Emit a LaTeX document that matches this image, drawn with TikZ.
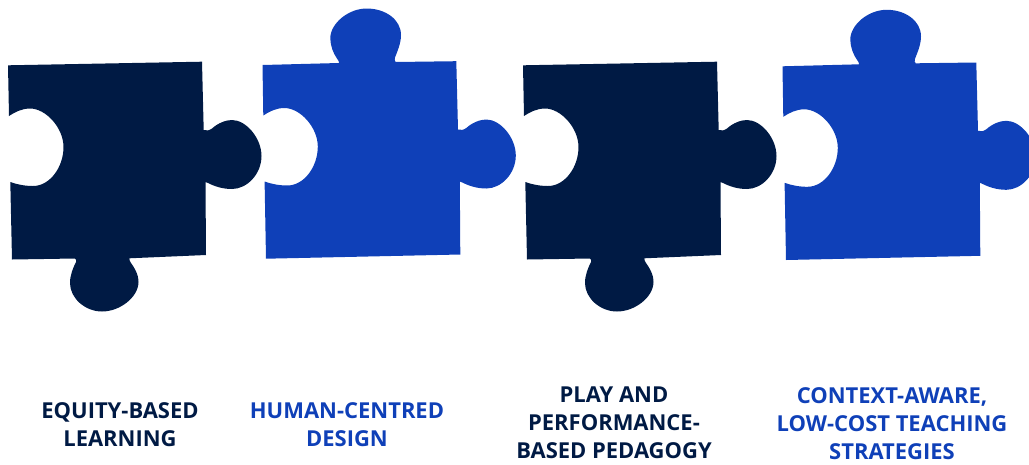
\documentclass[tikz,border=0pt]{standalone}
\usepackage{fontspec}
\setmainfont{Open Sans}
\definecolor{darknavy}{RGB}{0, 26, 68}
\definecolor{royalblue}{RGB}{15, 64, 184}
\usetikzlibrary{positioning}
% outline parts of a piece, clockwise, in image pixels
\newcommand{\piecetopplain}{(8,65.3) -- (202,61.7)}
\newcommand{\piecetoptab}{(8.2,65.5) -- (84.7,63.5) .. controls (85,62) and (84,61) .. (83,59.5) .. controls (79,54) and (76,46) .. (76,38.8) .. controls (76,24) and (94,9) .. (112.4,9) .. controls (131,9) and (146.7,20) .. (146.7,35.5) .. controls (146.7,44) and (143,52) .. (140.5,58.5) .. controls (140,60) and (140.5,61.5) .. (141.4,62.5) -- (202,61.7)}
\newcommand{\pieceright}{-- (203.7,130) .. controls (207,131) and (209,130.5) .. (212,128.5) .. controls (218,123) and (226,120) .. (232,120) .. controls (246,120) and (261.5,138) .. (261.5,156) .. controls (261.5,174) and (247,189) .. (232,189) .. controls (222,189) and (214,186) .. (208,183) .. controls (207,182) and (206,182) .. (205.5,182) -- (206,255)}
\newcommand{\piecebottomtab}{-- (129.3,258.3) .. controls (129.3,260) and (130,261.5) .. (131,263) .. controls (134,267) and (138.5,274) .. (138.5,282) .. controls (138.5,297) and (120,311.5) .. (102,311.5) .. controls (85,311.5) and (70,298) .. (70,283) .. controls (70,275) and (73,268) .. (76,262) .. controls (76.5,260.5) and (76,259) .. (75,258.5) -- (12,259.5)}
\newcommand{\pieceleft}{-- (10.3,182) .. controls (17,184.5) and (25,186) .. (33,186) .. controls (50,186) and (63.5,167) .. (63.5,147) .. controls (63.5,128) and (46,108.5) .. (30,108.5) .. controls (22,108.5) and (15,112) .. (9,116) -- cycle}

\begin{document}
\begin{tikzpicture}[
  x=0.02cm, y=-0.02cm,
  caption/.style={align=center, inner sep=0pt, font=\fontsize{12.5}{15.9}\selectfont\bfseries}
]
  \useasboundingbox (0,0) rectangle (1029,464);

  % Pieces
  \fill[darknavy] \piecetopplain \pieceright \piecebottomtab \pieceleft;
  \fill[royalblue, shift={(254.3,-0.5)}] \piecetoptab \pieceright -- (11.7,259.2) \pieceleft;
  \fill[darknavy, shift={(515,0)}] \piecetopplain \pieceright \piecebottomtab \pieceleft;
  \fill[royalblue, shift={(774.3,0.8)}] \piecetoptab \pieceright -- (11.7,259.2) \pieceleft;

  % Captions
  \node[caption, darknavy] (equity) at (120,424.5) {EQUITY-BASED\\LEARNING};
  \node[caption, royalblue] (human) at (347,424.5) {HUMAN-CENTRED\\DESIGN};
  \node[caption, darknavy] (play) at (614,423) {PLAY AND\\PERFORMANCE-\\BASED PEDAGOGY};
  \node[caption, royalblue] (context) at (892,424) {CONTEXT-AWARE,\\LOW-COST TEACHING\\STRATEGIES};
\end{tikzpicture}
\end{document}
